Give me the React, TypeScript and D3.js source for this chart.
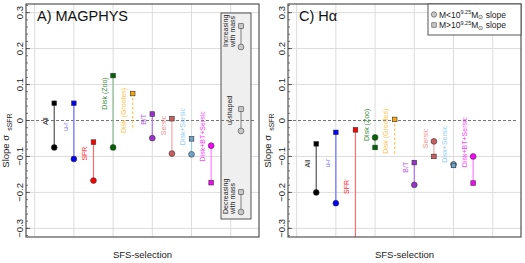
import React from 'react';
import * as d3 from 'd3';

// SFS selection methods (x categories, positions 1..9)
const categories = ['All', 'u-r', 'SFR', 'Disk (Zoo)', 'Disk (Grootes)', 'B/T', 'Sersic', 'Disk+Sersic', 'Disk+BT+Sersic'];
const markerColors = ['#000000', '#0000FF', '#FF0000', '#006400', '#FFA500', '#9A32CD', '#CD5C5C', '#6CA6CD', '#FF00FF'];
const labelColors = ['#222222', '#6F6FFF', '#FF2A2A', '#3A8A3A', '#FFC24D', '#B55CF2', '#F08C8C', '#8FCDF2', '#FF40FF'];
const lineColors = ['#555555', '#6F6FFF', '#FF6A6A', '#8CB88C', '#FFC24D', '#B870F0', '#F4A6A6', '#9CCBE8', '#FF80FF'];
const dashedLine = [false, false, false, false, true, false, false, false, false];

// A) MAGPHYS: slope above / below 10^9.25 Msun
const magphysHigh = [0.048, 0.048, -0.06, 0.125, 0.075, 0.018, 0.005, -0.051, -0.173];
const magphysLow = [-0.075, -0.107, -0.167, -0.075, -0.026, -0.049, -0.092, -0.094, -0.07];
const magphysShowLow = [true, true, true, true, false, true, true, true, true];
const magphysLabelY = [-0.002, -0.017, -0.092, 0.075, 0.028, 0.003, -0.014, -0.017, -0.044];

// C) Halpha
const halphaHigh = [-0.065, -0.033, -0.026, -0.075, 0.003, -0.117, -0.1, -0.125, -0.174];
const halphaLow = [-0.2, -0.23, -0.42, -0.047, -0.097, -0.179, -0.058, -0.122, -0.1];
const halphaShowLow = [true, true, true, true, false, true, true, true, true];
const halphaLabelY = [-0.12, -0.118, -0.185, -0.012, -0.03, -0.13, -0.05, -0.066, -0.06];

const yTicks = [-0.3, -0.2, -0.1, 0, 0.1, 0.2, 0.3];
const yMinor = d3.range(-0.32, 0.321, 0.02);
const xGrid = [0, 2, 4, 6, 8, 10];

const FONT = '"Liberation Sans", Arial, sans-serif';
const TOP = 4;
const BOTTOM = 237;
const PW = 233;

type PanelProps = {
  left: number;
  title: React.ReactNode;
  high: number[];
  low: number[];
  showLow: boolean[];
  labelY: number[];
  id: string;
  children?: React.ReactNode;
};

const Panel = ({ left, title, high, low, showLow, labelY, id, children }: PanelProps) => {
  const x = d3.scaleLinear().domain([-0.44, 11.44]).range([left, left + PW]);
  const y = d3.scaleLinear().domain([-0.324, 0.324]).range([BOTTOM, TOP]);
  const idx = d3.range(categories.length);
  const sq = 4.6;
  return (
    <g>
      <defs>
        <clipPath id={id}>
          <rect x={left} y={TOP} width={PW} height={BOTTOM - TOP} />
        </clipPath>
      </defs>
      {yTicks.filter(t => t !== 0).map(t => (
        <line key={'h' + t} x1={left} x2={left + PW} y1={y(t)} y2={y(t)} stroke="#dcdcdc" strokeWidth={1} />
      ))}
      {xGrid.map(g => (
        <line key={'v' + g} x1={x(g)} x2={x(g)} y1={TOP} y2={BOTTOM} stroke="#dcdcdc" strokeWidth={1} />
      ))}
      {children}
      <line x1={left} x2={left + PW - 4} y1={y(0)} y2={y(0)} stroke="#666" strokeWidth={0.9} strokeDasharray="3,2" />
      <g clipPath={`url(#${id})`}>
        {idx.map(i => (
          <line key={'s' + i} x1={x(i + 1)} x2={x(i + 1)} y1={y(high[i])} y2={y(low[i])}
            stroke={lineColors[i]} strokeWidth={1.2} strokeDasharray={dashedLine[i] ? '2.5,2' : undefined} />
        ))}
        {idx.map(i => showLow[i] ? (
          <circle key={'c' + i} cx={x(i + 1)} cy={y(low[i])} r={2.9} fill={markerColors[i]} stroke="#333" strokeWidth={0.6} />
        ) : null)}
        {idx.map(i => (
          <rect key={'q' + i} x={x(i + 1) - sq / 2} y={y(high[i]) - sq / 2} width={sq} height={sq}
            fill={markerColors[i]} stroke="#333" strokeWidth={0.6} />
        ))}
      </g>
      {idx.map(i => (
        <text key={'l' + i} transform={`translate(${x(i + 0.55)},${y(labelY[i])}) rotate(-90)`}
          textAnchor="middle" dominantBaseline="central" fontSize={7} fill={labelColors[i]} fontFamily={FONT}>
          {categories[i]}
        </text>
      ))}
      {yTicks.map(t => (
        <g key={'t' + t}>
          <line x1={left} x2={left + 4} y1={y(t)} y2={y(t)} stroke="#444" strokeWidth={0.8} />
          <text transform={`translate(${left - 7},${y(t)}) rotate(-90)`} textAnchor="middle"
            dominantBaseline="central" fontSize={9.5} fill="#222" fontFamily={FONT}>{t === 0 ? '0' : d3.format('.1f')(t)}</text>
        </g>
      ))}
      {yMinor.map(t => (
        <line key={'m' + t} x1={left} x2={left + 2} y1={y(t)} y2={y(t)} stroke="#444" strokeWidth={0.7} />
      ))}
      <rect x={left} y={TOP} width={PW} height={BOTTOM - TOP} fill="none" stroke="#444" strokeWidth={1.1} />
      <text x={left + 11} y={21} fontSize={14.5} fill="#111" fontFamily={FONT}>{title}</text>
      <text transform={`translate(${left - 17},${(TOP + BOTTOM) / 2 + 20}) rotate(-90)`} textAnchor="middle"
        fontSize={9.5} fill="#222" fontFamily={FONT}>
        Slope σ<tspan dx={4} dy={2.5} fontSize={7}>sSFR</tspan>
      </text>
      <text x={left + PW / 2} y={258} textAnchor="middle" fontSize={9.5} fill="#222" fontFamily={FONT}>SFS-selection</text>
    </g>
  );
};

const LeftLegend = () => {
  const gx = 241;
  const items = [
    { lines: ['Increasing', 'with mass'], sqY: 26, cY: 47, tY: 47 },
    { lines: ['u-shaped'], sqY: 109, cY: 131, tY: 125 },
    { lines: ['Decreasing', 'with mass'], sqY: 192, cY: 212, tY: 214 },
  ];
  return (
    <g>
      <rect x={221} y={13} width={30} height={206} fill="#efefef" stroke="#444" strokeWidth={0.9} />
      {items.map((it, k) => (
        <g key={k}>
          <line x1={gx} x2={gx} y1={it.sqY} y2={it.cY} stroke="#666" strokeWidth={0.8} />
          <circle cx={gx} cy={it.cY} r={2.9} fill="#c8c8c8" stroke="#444" strokeWidth={0.6} />
          <rect x={gx - 2.3} y={it.sqY - 2.3} width={4.6} height={4.6} fill="#c8c8c8" stroke="#444" strokeWidth={0.6} />
          {it.lines.map((s, j) => (
            <text key={j} transform={`translate(${it.lines.length === 1 ? 229 : 225.5 + j * 6.5},${it.tY}) rotate(-90)`}
              dominantBaseline="central" fontSize={7} fill="#222" fontFamily={FONT}>{s}</text>
          ))}
        </g>
      ))}
    </g>
  );
};

const RightLegend = () => (
  <g>
    <rect x={428} y={4} width={93} height={31} fill="#fff" stroke="#444" strokeWidth={0.9} />
    <circle cx={434} cy={14.5} r={2.7} fill="#c8c8c8" stroke="#444" strokeWidth={0.6} />
    <rect x={431.8} y={22.8} width={4.4} height={4.4} fill="#c8c8c8" stroke="#444" strokeWidth={0.6} />
    {[14.5, 25].map((yy, k) => (
      <text key={k} x={439} y={yy + 3} fontSize={8.5} fill="#222" fontFamily={FONT}>
        M{k === 0 ? '<' : '>'}10<tspan dy={-3.5} fontSize={5.5}>9.25</tspan><tspan dy={3.5}>M</tspan><tspan dy={1.5} fontSize={6}>⊙</tspan><tspan dy={-1.5}> slope</tspan>
      </text>
    ))}
  </g>
);

export default function App() {
  return (
    <svg width={525} height={263} style={{ position: 'absolute', left: 0, top: 0, background: '#fff' }}>
      <Panel left={26} id="clipA" title="A) MAGPHYS" high={magphysHigh} low={magphysLow} showLow={magphysShowLow} labelY={magphysLabelY}>
        <LeftLegend />
      </Panel>
      <Panel left={288} id="clipC" title="C) Hα" high={halphaHigh} low={halphaLow} showLow={halphaShowLow} labelY={halphaLabelY} />
      <RightLegend />
    </svg>
  );
}
